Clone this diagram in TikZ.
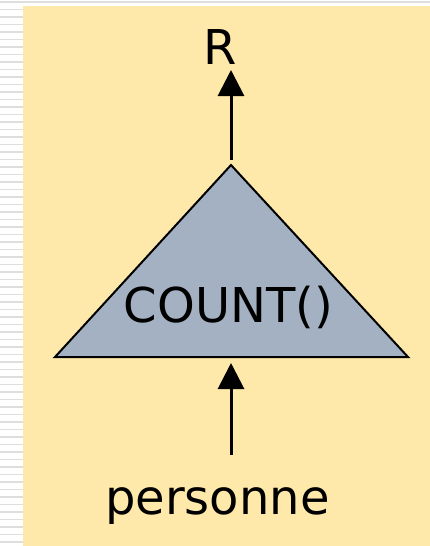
\documentclass[tikz,border=0pt]{standalone}
\usepackage{fontspec}
\setmainfont{DejaVu Sans}
\usetikzlibrary{arrows.meta}
\definecolor{panelyellow}{RGB}{255,233,170}
\definecolor{opgray}{RGB}{163,177,194}
\definecolor{stripegray}{RGB}{222,222,222}

\begin{document}
\begin{tikzpicture}[
  x=1pt, y=-1pt,
  tri/.style={draw=black, fill=opgray, line width=2pt, line join=miter},
  arr/.style={-{Triangle[length=26pt,width=26pt]}, line width=3pt},
  lbl/.style={font=\fontsize{48}{52}\selectfont, inner sep=0pt, anchor=base},
]
  \useasboundingbox (0,0) rectangle (430,546);
  % slide background
  \fill[white] (0,0) rectangle (430,546);
  \foreach \k in {0,...,72}{
    \fill[stripegray] (0,{1+7.5*\k}) rectangle (23,{2.8+7.5*\k});
  }
  \fill[stripegray] (0,1) rectangle (430,3);
  \fill[panelyellow] (23,6) rectangle (430,546);
  % operator
  \coordinate (apex) at (231,165);
  \coordinate (bl) at (55,357);
  \coordinate (br) at (408,357);
  \draw[tri] (apex) -- (br) -- (bl) -- cycle;
  \node[lbl] (count) at (228.5,322) {COUNT()};
  % output
  \node[lbl] (res) at (220,64) {R};
  \coordinate (rtail) at (231,160);
  \coordinate (rtip) at (231,70);
  \draw[arr] (rtail) -- (rtip);
  % input
  \node[lbl] (pers) at (217.5,514) {personne};
  \coordinate (ptail) at (231,455);
  \coordinate (ptip) at (231,363);
  \draw[arr] (ptail) -- (ptip);
\end{tikzpicture}
\end{document}
